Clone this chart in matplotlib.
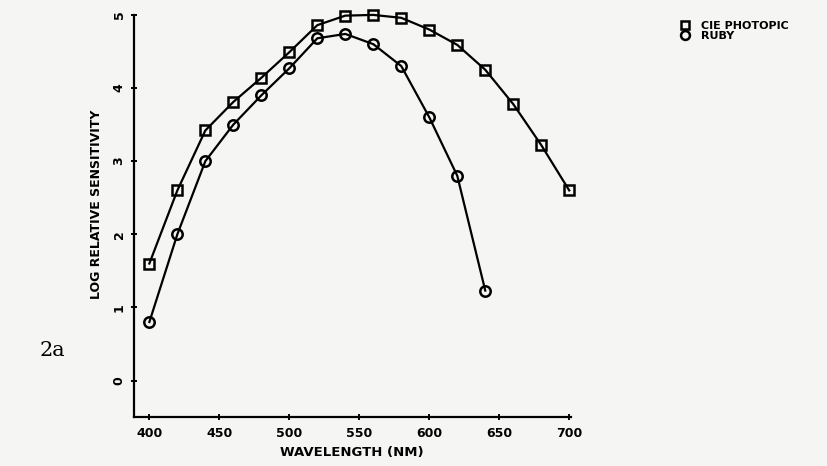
import matplotlib
matplotlib.use("Agg")
import matplotlib.pyplot as plt

# wavelengths (nm) and log relative sensitivity
wl_cie = [400, 420, 440, 460, 480, 500, 520, 540, 560, 580, 600, 620, 640, 660, 680, 700]
cie_photopic = [1.6, 2.6, 3.42, 3.81, 4.14, 4.49, 4.86, 4.99, 5.0, 4.96, 4.8, 4.59, 4.25, 3.78, 3.22, 2.6]
wl_ruby = [400, 420, 440, 460, 480, 500, 520, 540, 560, 580, 600, 620, 640]
ruby = [0.8, 2.0, 3.0, 3.5, 3.9, 4.27, 4.68, 4.74, 4.6, 4.3, 3.6, 2.8, 1.23]

x_ticks = [400, 450, 500, 550, 600, 650, 700]
y_ticks = [0, 1, 2, 3, 4, 5]

bg = "#f5f5f3"
fig = plt.figure(figsize=(8.27, 4.66), dpi=100, facecolor=bg)
ax = fig.add_axes([0.162, 0.105, 0.528, 0.863])
ax.set_facecolor(bg)

ax.plot(wl_cie, cie_photopic, color="black", lw=1.6, marker="s", ms=7,
        mfc="none", mec="black", mew=1.8, label="CIE PHOTOPIC", clip_on=False)
ax.plot(wl_ruby, ruby, color="black", lw=1.6, marker="o", ms=7.5,
        mfc="none", mec="black", mew=1.8, label="RUBY", clip_on=False)

ax.set_xlim(389, 701)
ax.set_ylim(-0.5, 5.0)
ax.set_xticks(x_ticks)
ax.set_yticks(y_ticks)
for s in ["top", "right"]:
    ax.spines[s].set_visible(False)
for s in ["left", "bottom"]:
    ax.spines[s].set_linewidth(1.6)
ax.tick_params(direction="inout", length=5, width=1.4, labelsize=9)
ax.tick_params(axis="x", pad=5)
for lab in ax.get_xticklabels():
    lab.set_fontweight("bold")
for lab in ax.get_yticklabels():
    lab.set_fontweight("bold")
    lab.set_rotation(90)
    lab.set_va("center")

ax.set_xlabel("WAVELENGTH (NM)", fontsize=9.5, fontweight="bold", labelpad=4)
ax.set_ylabel("LOG RELATIVE SENSITIVITY", fontsize=9, fontweight="bold", labelpad=3)
ax.yaxis.set_label_coords(-0.07, 0.53)

ax.legend(loc="upper left", bbox_to_anchor=(1.24, 1.01), frameon=False,
          prop={"weight": "bold", "size": 8}, handlelength=0, handletextpad=1.4,
          labelspacing=0.0, markerscale=0.85)

fig.text(0.048, 0.235, "2a", fontsize=15, family="DejaVu Serif")

fig.savefig("out.png", dpi=100, facecolor=bg)
